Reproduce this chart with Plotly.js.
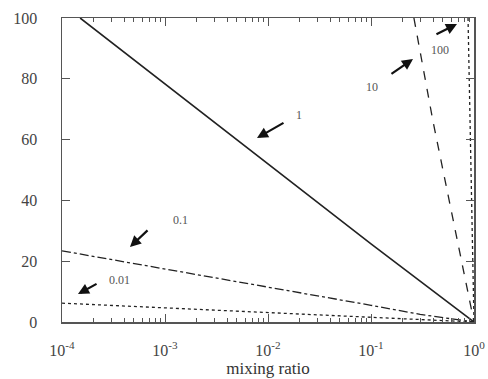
<!DOCTYPE html>
<html><head><meta charset="utf-8">
<script src="https://cdn.plot.ly/plotly-3.0.1.min.js"></script>
<style>body{margin:0;background:#fff}#c{width:488px;height:379px}</style>
</head><body><div id="c"></div>
<script>
// data
const x1 = [1.5e-4, 1e-3, 1e-2, 1e-1, 1];
const y1 = [100, 78.3, 52, 25.7, 0];
const x01 = [1e-4, 1e-3, 1e-2, 1e-1, 0.3, 1];
const y01 = [23.4, 17.5, 11.5, 5.5, 2.5, 0];
const x001 = [1e-4, 1e-3, 1e-2, 1e-1, 1];
const y001 = [6.2, 4.6, 3.0, 1.5, 0];
const x10 = [0.261, 0.40, 1];
const y10 = [100, 66, 0];
const x100 = [0.875, 1];
const y100 = [100, 0];
const xTickVals = [1e-4, 1e-3, 1e-2, 1e-1, 1];
const xTickText = ["10<sup>-4</sup>", "10<sup>-3</sup>", "10<sup>-2</sup>", "10<sup>-1</sup>", "10<sup>0</sup>"];
const labels = ["1", "0.1", "0.01", "10", "100"];
// label / arrow positions in (log10 x, y)
const labelPos = [[-1.70, 68], [-2.854, 33.6], [-3.437, 13.8], [-0.99, 77.3], [-0.33, 89.5]];
const arrowHead = [[-2.107, 60.5], [-3.34, 24.7], [-3.845, 9.2], [-0.592, 86.5], [-0.165, 98]];
const arrowTail = [[-1.835, 65.8], [-3.155, 30.6], [-3.65, 12.8], [-0.816, 81.3], [-0.379, 94.4]];

const lineC = '#222';
const traces = [
  {x: x1, y: y1, mode: 'lines', line: {color: lineC, width: 1.6, dash: 'solid'}},
  {x: x01, y: y01, mode: 'lines', line: {color: lineC, width: 1.3, dash: 'dashdot'}},
  {x: x001, y: y001, mode: 'lines', line: {color: lineC, width: 1.3, dash: 'dot'}},
  {x: x10, y: y10, mode: 'lines', line: {color: lineC, width: 1.3, dash: 'dash'}},
  {x: x100, y: y100, mode: 'lines', line: {color: lineC, width: 1.3, dash: 'dot'}}
];
const serif = 'Times New Roman, Liberation Serif, serif';
const ann = [];
for (let i = 0; i < labels.length; i++) {
  ann.push({x: labelPos[i][0], y: labelPos[i][1], xref: 'x', yref: 'y', text: labels[i], showarrow: false,
    font: {family: serif, size: 12, color: '#555'}});
  ann.push({x: arrowHead[i][0], y: arrowHead[i][1], ax: arrowTail[i][0], ay: arrowTail[i][1],
    xref: 'x', yref: 'y', axref: 'x', ayref: 'y', text: '', showarrow: true,
    arrowhead: 2, arrowsize: 1, arrowwidth: 2.2, arrowcolor: '#111'});
}
const font = {family: serif, size: 16, color: '#444'};
const layout = {
  width: 488, height: 379,
  margin: {l: 62, r: 14, t: 18, b: 57},
  paper_bgcolor: '#fff', plot_bgcolor: '#fff',
  showlegend: false,
  font: font,
  xaxis: {type: 'log', range: [-4, 0], tickvals: xTickVals, ticktext: xTickText,
    ticks: 'inside', ticklen: 8, tickcolor: '#555', mirror: 'ticks', showline: true,
    linecolor: '#555', linewidth: 1.5, showgrid: false, zeroline: false,
    ticklabelstandoff: 13,
    minor: {ticks: 'inside', ticklen: 4, tickcolor: '#555', dtick: 'D1', showgrid: false},
    tickfont: font,
    title: {text: 'mixing ratio', font: {family: serif, size: 17, color: '#333'}, standoff: 0}},
  yaxis: {range: [0, 100], tickvals: [0, 20, 40, 60, 80, 100],
    ticks: 'inside', ticklen: 8, tickcolor: '#555', mirror: 'ticks', showline: true,
    linecolor: '#555', linewidth: 1.5, showgrid: false, zeroline: false, tickfont: font,
    ticklabelstandoff: 20},
  annotations: ann
};
Plotly.newPlot('c', traces, layout, {staticPlot: true, displayModeBar: false});
</script></body></html>
